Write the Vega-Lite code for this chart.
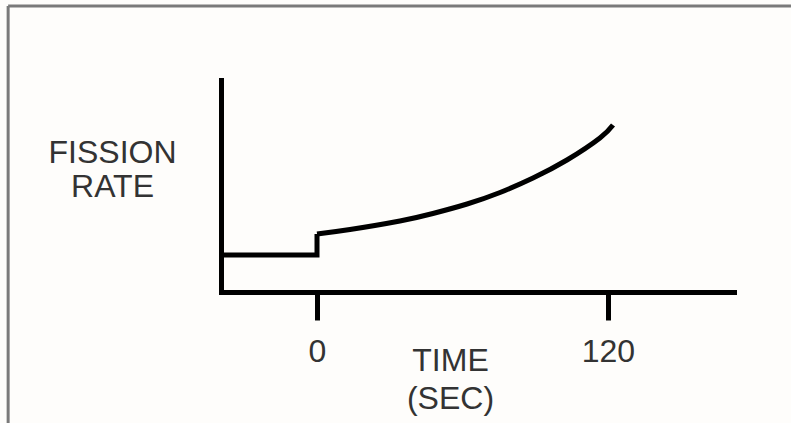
{
  "$schema": "https://vega.github.io/schema/vega-lite/v6.json",
  "width": 513,
  "height": 212,
  "autosize": {"type": "none"},
  "padding": {"left": 221, "top": 80, "right": 57, "bottom": 131},
  "background": "#fefdfb",
  "config": {
    "view": {"stroke": null},
    "font": "Liberation Sans"
  },
  "datasets": {
    "step": [
      {"time": -39.6, "rate": 3.7, "order": 1},
      {"time": 0, "rate": 3.7, "order": 2},
      {"time": 0, "rate": 5.8, "order": 3}
    ],
    "curve": [
      {"time": 0, "rate": 5.8},
      {"time": 13.6, "rate": 6.25},
      {"time": 34.2, "rate": 7.1},
      {"time": 47.8, "rate": 7.85},
      {"time": 61.9, "rate": 8.8},
      {"time": 75.5, "rate": 9.95},
      {"time": 89.1, "rate": 11.4},
      {"time": 103.1, "rate": 13.2},
      {"time": 116.7, "rate": 15.4},
      {"time": 122.1, "rate": 16.7}
    ],
    "frame": [
      {"x1": -127.4, "x2": 195.5, "y1": 28.6, "y2": 28.6},
      {"x1": -127.4, "x2": -127.4, "y1": 28.6, "y2": -14}
    ]
  },
  "layer": [
    {
      "data": {"name": "frame"},
      "mark": {"type": "rule", "color": "#7a7a7a", "strokeWidth": 3, "clip": false},
      "encoding": {
        "x": {"field": "x1", "type": "quantitative", "scale": {"domain": [-39.6, 172], "nice": false, "zero": false}},
        "x2": {"field": "x2"},
        "y": {"field": "y1", "type": "quantitative", "scale": {"domain": [0, 21.2], "nice": false, "zero": false}},
        "y2": {"field": "y2"}
      }
    },
    {
      "data": {"name": "step"},
      "mark": {"type": "line", "color": "black", "strokeWidth": 5, "strokeJoin": "miter", "strokeCap": "butt"},
      "encoding": {
        "x": {
          "field": "time", "type": "quantitative",
          "scale": {"domain": [-39.6, 172], "nice": false, "zero": false},
          "axis": {
            "values": [0, 120],
            "grid": false,
            "domainColor": "black",
            "domainWidth": 5,
            "domainCap": "square",
            "tickColor": "black",
            "tickWidth": 5,
            "tickSize": 28,
            "labelFontSize": 32,
            "labelColor": "#333333",
            "labelPadding": 16,
            "labelFont": "Liberation Sans",
            "title": ["TIME", "(SEC)"],
            "titleFont": "Liberation Sans",
            "titleFontSize": 32,
            "titleFontWeight": "normal",
            "titleColor": "#333333",
            "titleX": 229,
            "titleY": 53,
            "titleAlign": "center",
            "titleBaseline": "top",
            "titleLineHeight": 38
          }
        },
        "y": {
          "field": "rate", "type": "quantitative",
          "scale": {"domain": [0, 21.2], "nice": false, "zero": false},
          "axis": {
            "grid": false,
            "ticks": false,
            "labels": false,
            "domainColor": "black",
            "domainWidth": 5,
            "domainCap": "square",
            "title": ["FISSION", "RATE"],
            "titleFont": "Liberation Sans",
            "titleFontSize": 32,
            "titleFontWeight": "normal",
            "titleColor": "#333333",
            "titleAngle": 0,
            "titleX": -109,
            "titleY": 57,
            "titleAlign": "center",
            "titleBaseline": "top",
            "titleLineHeight": 34
          }
        },
        "order": {"field": "order"}
      }
    },
    {
      "data": {"name": "curve"},
      "mark": {"type": "line", "color": "black", "strokeWidth": 5, "interpolate": "natural", "strokeCap": "butt"},
      "encoding": {
        "x": {"field": "time", "type": "quantitative"},
        "y": {"field": "rate", "type": "quantitative"}
      }
    }
  ]
}
